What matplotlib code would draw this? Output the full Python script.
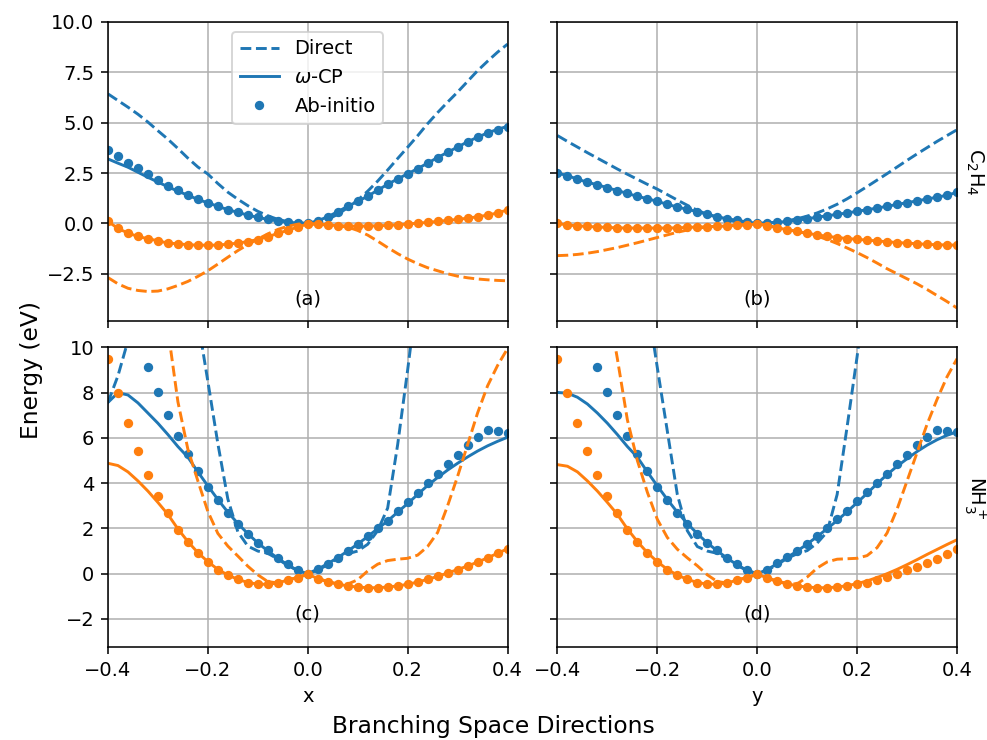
import numpy as np
import matplotlib
matplotlib.use("Agg")
import matplotlib.pyplot as plt

# displacement grid along each branching-space direction
disp = np.linspace(-0.4, 0.4, 41)

# ---- C2H4, x direction (a) ----
abi_a_up = [3.62, 3.33, 3.00, 2.74, 2.44, 2.16, 1.87, 1.64, 1.41, 1.19, 1.03,
            0.85, 0.68, 0.56, 0.41, 0.30, 0.20, 0.12, 0.07, 0.02, 0.00,
            0.13, 0.33, 0.58, 0.85, 1.09, 1.34, 1.66, 1.94, 2.21, 2.45,
            2.72, 2.99, 3.27, 3.53, 3.78, 4.05, 4.28, 4.49, 4.66, 4.81]
cp_a_up = [3.20, 2.99, 2.79, 2.54, 2.29, 2.05, 1.82, 1.60, 1.40, 1.19, 1.02,
           0.85, 0.68, 0.55, 0.41, 0.30, 0.20, 0.12, 0.06, 0.02, 0.00,
           0.13, 0.33, 0.58, 0.85, 1.09, 1.35, 1.65, 1.94, 2.21, 2.46,
           2.72, 2.99, 3.27, 3.53, 3.79, 4.05, 4.28, 4.49, 4.67, 4.82]
dir_a_up = [6.43, 6.10, 5.77, 5.42, 5.03, 4.60, 4.18, 3.72, 3.24, 2.80, 2.45,
            1.98, 1.55, 1.20, 0.88, 0.60, 0.38, 0.20, 0.09, 0.02, 0.00,
            0.05, 0.20, 0.45, 0.78, 1.15, 1.60, 2.10, 2.65, 3.22, 3.78,
            4.35, 4.95, 5.50, 6.02, 6.52, 7.05, 7.58, 8.05, 8.50, 8.90]
abi_a_lo = [0.10, -0.25, -0.48, -0.65, -0.76, -0.86, -0.98, -1.01, -1.06, -1.08, -1.08,
            -1.08, -1.03, -0.98, -0.90, -0.80, -0.66, -0.50, -0.34, -0.18, -0.03,
            -0.05, -0.08, -0.11, -0.13, -0.14, -0.13, -0.12, -0.10, -0.07, -0.03,
            0.01, 0.05, 0.10, 0.15, 0.20, 0.26, 0.33, 0.41, 0.52, 0.67]
cp_a_lo = abi_a_lo
dir_a_lo = [-2.69, -3.00, -3.22, -3.33, -3.38, -3.36, -3.25, -3.08, -2.88, -2.63, -2.35,
            -2.02, -1.68, -1.35, -1.05, -0.78, -0.52, -0.30, -0.14, -0.04, 0.00,
            -0.03, -0.07, -0.12, -0.18, -0.35, -0.58, -0.88, -1.20, -1.50, -1.77,
            -2.00, -2.20, -2.35, -2.50, -2.62, -2.70, -2.76, -2.80, -2.83, -2.85]

# ---- C2H4, y direction (b) ----
abi_b_up = [2.50, 2.37, 2.20, 2.04, 1.92, 1.77, 1.63, 1.49, 1.34, 1.23, 1.09,
            0.95, 0.81, 0.70, 0.58, 0.45, 0.33, 0.23, 0.15, 0.07, 0.00,
            0.02, 0.05, 0.10, 0.16, 0.23, 0.31, 0.38, 0.45, 0.52, 0.60,
            0.68, 0.76, 0.85, 0.94, 1.03, 1.12, 1.21, 1.30, 1.40, 1.54]
cp_b_up = abi_b_up
dir_b_up = [4.36, 4.07, 3.79, 3.51, 3.24, 2.97, 2.70, 2.44, 2.19, 1.94, 1.70,
            1.43, 1.16, 0.90, 0.65, 0.45, 0.30, 0.18, 0.08, 0.02, 0.00,
            0.02, 0.06, 0.13, 0.23, 0.36, 0.52, 0.72, 0.95, 1.22, 1.52,
            1.83, 2.15, 2.47, 2.80, 3.13, 3.45, 3.76, 4.07, 4.36, 4.65]
abi_b_lo = [0.00, -0.08, -0.12, -0.15, -0.18, -0.20, -0.22, -0.23, -0.23, -0.23, -0.23,
            -0.23, -0.22, -0.20, -0.18, -0.17, -0.15, -0.13, -0.10, -0.07, -0.03,
            -0.11, -0.22, -0.31, -0.40, -0.49, -0.57, -0.64, -0.70, -0.75, -0.79,
            -0.83, -0.87, -0.91, -0.95, -0.98, -1.01, -1.04, -1.06, -1.07, -1.08]
cp_b_lo = abi_b_lo
dir_b_lo = [-1.60, -1.58, -1.54, -1.48, -1.40, -1.30, -1.20, -1.08, -0.96, -0.83, -0.70,
            -0.57, -0.44, -0.33, -0.24, -0.17, -0.14, -0.12, -0.09, -0.05, -0.01,
            -0.10, -0.20, -0.30, -0.40, -0.50, -0.63, -0.80, -1.00, -1.22, -1.45,
            -1.70, -1.97, -2.25, -2.50, -2.75, -3.00, -3.28, -3.58, -3.88, -4.20]

# ---- NH3+, x direction (c) ----
abi_c_up = [13.5, 12.5, 11.5, 10.4, 9.15, 8.01, 7.00, 6.10, 5.29, 4.53, 3.85,
            3.24, 2.69, 2.20, 1.76, 1.35, 1.03, 0.71, 0.41, 0.15, 0.00,
            0.22, 0.44, 0.71, 1.00, 1.32, 1.65, 2.01, 2.35, 2.79, 3.16,
            3.56, 4.00, 4.41, 4.85, 5.26, 5.69, 6.06, 6.35, 6.29, 6.21]
cp_c_up = [7.57, 8.00, 7.90, 7.55, 7.10, 6.65, 6.15, 5.62, 5.15, 4.50, 3.88,
           3.28, 2.72, 2.22, 1.77, 1.36, 1.01, 0.68, 0.39, 0.14, 0.00,
           0.20, 0.44, 0.71, 1.00, 1.31, 1.64, 1.99, 2.33, 2.72, 3.10,
           3.50, 3.90, 4.25, 4.58, 4.88, 5.16, 5.42, 5.65, 5.85, 6.03]
dir_c_up = [7.57, 8.75, 10.3, 13.0, 16.0, 19.0, 20.0, 19.0, 16.0, 11.2, 8.50,
            5.75, 3.30, 1.85, 1.22, 1.00, 0.90, 0.65, 0.36, 0.14, 0.00,
            0.15, 0.40, 0.68, 0.88, 1.00, 1.30, 1.90, 2.90, 5.70, 9.00,
            12.5, 16.0, 20.0, 24.0, 28.0, 32.0, 36.0, 40.0, 44.0, 48.0]
abi_c_lo = [9.49, 7.99, 6.65, 5.44, 4.38, 3.44, 2.68, 1.94, 1.40, 0.91, 0.51,
            0.18, -0.07, -0.25, -0.40, -0.47, -0.47, -0.40, -0.26, -0.18, -0.03,
            -0.22, -0.37, -0.47, -0.54, -0.59, -0.62, -0.62, -0.59, -0.54, -0.47,
            -0.37, -0.25, -0.12, 0.03, 0.18, 0.34, 0.51, 0.71, 0.91, 1.10]
cp_c_lo = [4.88, 4.78, 4.50, 4.10, 3.65, 3.15, 2.62, 1.98, 1.42, 0.93, 0.53,
           0.19, -0.06, -0.25, -0.39, -0.46, -0.47, -0.41, -0.28, -0.16, -0.03,
           -0.21, -0.36, -0.46, -0.54, -0.59, -0.62, -0.62, -0.59, -0.54, -0.47,
           -0.37, -0.25, -0.12, 0.03, 0.18, 0.34, 0.51, 0.70, 0.90, 1.10]
dir_c_lo = [30.0, 26.0, 22.0, 18.0, 15.0, 12.5, 10.8, 7.60, 5.50, 4.10, 2.75,
            1.78, 1.22, 0.78, 0.33, -0.05, -0.35, -0.41, -0.28, -0.17, -0.03,
            -0.20, -0.35, -0.45, -0.46, -0.27, 0.12, 0.42, 0.58, 0.64, 0.68,
            0.82, 1.20, 1.82, 3.00, 4.30, 5.70, 7.10, 8.30, 9.20, 9.95]

# ---- NH3+, y direction (d) ----
abi_d_up = [13.5, 12.5, 11.5, 10.4, 9.15, 8.01, 7.00, 6.10, 5.29, 4.53, 3.85,
            3.24, 2.69, 2.20, 1.76, 1.35, 1.03, 0.71, 0.41, 0.15, 0.00,
            0.18, 0.47, 0.74, 1.00, 1.32, 1.65, 2.01, 2.40, 2.79, 3.21,
            3.60, 4.00, 4.41, 4.85, 5.26, 5.69, 6.03, 6.35, 6.32, 6.25]
cp_d_up = [8.01, 7.98, 7.80, 7.50, 7.10, 6.65, 6.15, 5.62, 5.15, 4.50, 3.88,
           3.28, 2.72, 2.22, 1.77, 1.36, 1.01, 0.68, 0.39, 0.14, 0.00,
           0.18, 0.44, 0.72, 1.00, 1.31, 1.64, 1.99, 2.35, 2.74, 3.14,
           3.55, 3.98, 4.38, 4.75, 5.08, 5.40, 5.68, 5.92, 6.12, 6.27]
dir_d_up = [30.0, 28.0, 26.0, 24.0, 22.0, 20.0, 18.0, 16.0, 14.0, 12.0, 9.10,
            6.30, 3.50, 1.90, 1.20, 1.00, 0.90, 0.65, 0.36, 0.14, 0.00,
            0.15, 0.40, 0.68, 0.88, 1.02, 1.35, 1.85, 3.50, 6.50, 9.60,
            13.0, 17.0, 21.0, 25.0, 29.0, 33.0, 37.0, 41.0, 45.0, 49.0]
abi_d_lo = [9.49, 7.99, 6.65, 5.44, 4.38, 3.44, 2.68, 1.94, 1.40, 0.91, 0.51,
            0.18, -0.07, -0.25, -0.40, -0.47, -0.47, -0.40, -0.26, -0.18, -0.03,
            -0.18, -0.32, -0.44, -0.54, -0.59, -0.62, -0.62, -0.59, -0.54, -0.47,
            -0.40, -0.29, -0.15, 0.00, 0.15, 0.29, 0.47, 0.66, 0.88, 1.10]
cp_d_lo = [4.82, 4.75, 4.50, 4.10, 3.65, 3.15, 2.62, 1.98, 1.42, 0.93, 0.53,
           0.19, -0.06, -0.25, -0.39, -0.46, -0.47, -0.41, -0.28, -0.16, -0.03,
           -0.18, -0.32, -0.44, -0.54, -0.59, -0.62, -0.62, -0.59, -0.53, -0.44,
           -0.32, -0.17, 0.00, 0.19, 0.40, 0.62, 0.85, 1.07, 1.29, 1.50]
dir_d_lo = [30.0, 26.0, 22.0, 18.0, 15.0, 12.0, 9.50, 6.80, 5.00, 3.60, 2.40,
            1.60, 1.08, 0.70, 0.35, -0.05, -0.35, -0.41, -0.28, -0.17, -0.03,
            -0.20, -0.35, -0.45, -0.45, -0.15, 0.25, 0.52, 0.64, 0.66, 0.68,
            0.80, 1.15, 1.80, 2.85, 4.10, 5.35, 6.60, 7.70, 8.70, 9.50]

panels = {
    "a": (dir_a_up, cp_a_up, abi_a_up, dir_a_lo, cp_a_lo, abi_a_lo),
    "b": (dir_b_up, cp_b_up, abi_b_up, dir_b_lo, cp_b_lo, abi_b_lo),
    "c": (dir_c_up, cp_c_up, abi_c_up, dir_c_lo, cp_c_lo, abi_c_lo),
    "d": (dir_d_up, cp_d_up, abi_d_up, dir_d_lo, cp_d_lo, abi_d_lo),
}
molecules = ["C$_2$H$_4$", "NH$_3^+$"]
row_ylim = [(-4.87, 10.0), (-3.24, 10.0)]
row_yticks = [[-2.5, 0.0, 2.5, 5.0, 7.5, 10.0], [-2, 0, 2, 4, 6, 8, 10]]
label_y = [-3.77, -1.77]

DPI = 140
fig, axes = plt.subplots(2, 2, figsize=(987 / DPI, 740 / DPI), dpi=DPI,
                         sharex=True, sharey="row")
fig.subplots_adjust(left=0.1094, right=0.9696, top=0.9703, bottom=0.1257,
                    wspace=0.125, hspace=0.0867)

for ax, key in zip(axes.flat, panels):
    d_up, c_up, a_up, d_lo, c_lo, a_lo = panels[key]
    for (d, c, a), col in [((d_up, c_up, a_up), "C0"), ((d_lo, c_lo, a_lo), "C1")]:
        ax.plot(disp, d, "--", color=col, label="Direct")
        ax.plot(disp, c, "-", color=col, label=r"$\omega$-CP")
        ax.plot(disp, a, "o", color=col, ms=3.8, label="Ab-initio")
    ax.grid(True)

for r in range(2):
    for c in range(2):
        ax = axes[r, c]
        ax.set_xlim(-0.4, 0.4)
        ax.set_ylim(*row_ylim[r])
        ax.set_yticks(row_yticks[r])
        ax.text(0.0, label_y[r], "(" + "abcd"[2 * r + c] + ")", ha="center", va="center")
    axes[r, 1].text(1.045, 0.5, molecules[r], transform=axes[r, 1].transAxes,
                    rotation=-90, ha="center", va="center")

axes[0, 0].set_xticks([-0.4, -0.2, 0.0, 0.2, 0.4])
h, l = axes[0, 0].get_legend_handles_labels()
axes[0, 0].legend(h[:3], l[:3], loc="upper center")
axes[1, 0].set_xlabel("x")
axes[1, 1].set_xlabel("y")
fig.supxlabel("Branching Space Directions", y=0.003, va="bottom")
fig.supylabel("Energy (eV)", x=0.02)

plt.savefig("out.png", dpi=DPI)
